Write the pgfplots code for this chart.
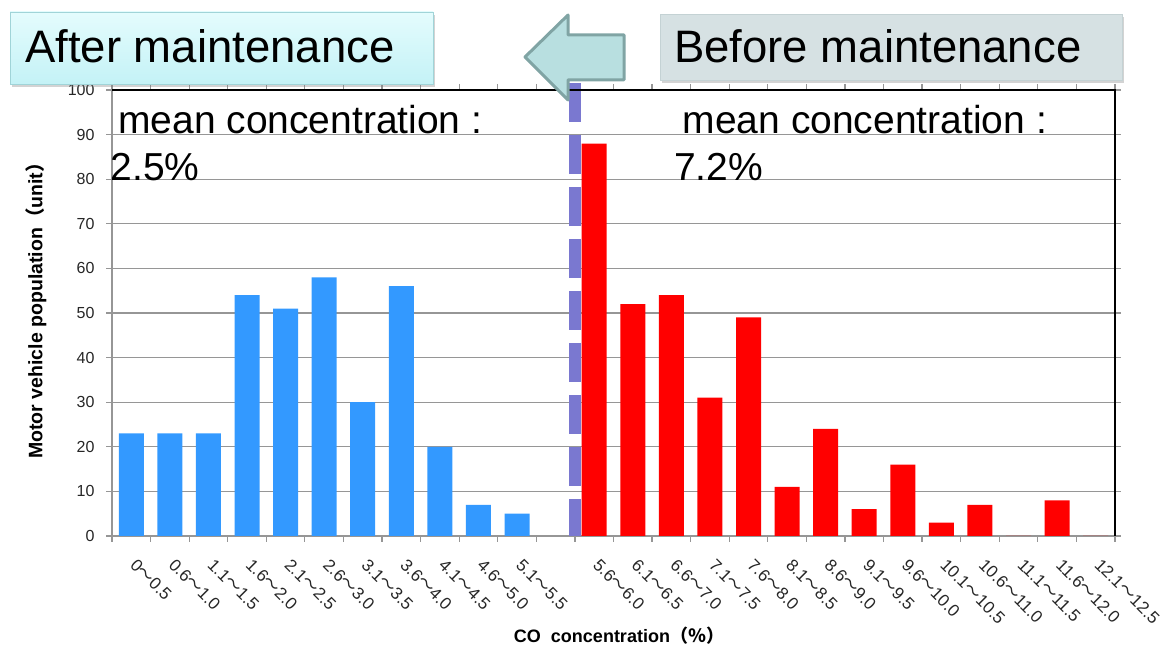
\documentclass[border=0pt]{standalone}
\usepackage{fontspec}
\setmainfont{Liberation Sans}
\newfontfamily\cjkfont{Noto Sans CJK SC}
\usepackage{pgfplots}
\usepackage{pgfplotstable}
\pgfplotsset{compat=1.18}
\usetikzlibrary{shadows}

\definecolor{afterblue}{RGB}{51,153,255}
\definecolor{beforered}{RGB}{255,0,0}
\definecolor{divider}{RGB}{122,120,208}
\definecolor{gridgray}{RGB}{150,150,150}
\definecolor{arrowfill}{RGB}{184,223,224}
\definecolor{arrowedge}{RGB}{128,164,164}
\definecolor{aftertop}{RGB}{228,252,253}
\definecolor{afterbot}{RGB}{196,242,246}
\definecolor{afteredge}{RGB}{160,212,216}
\definecolor{beforefill}{RGB}{214,225,227}
\definecolor{beforeedge}{RGB}{196,210,212}

% concentration range label, e.g. 0～0.5
\newcommand{\rng}[2]{#1{\cjkfont ～}#2}

% vehicles per CO band after maintenance (slots 0-10)
\pgfplotstableread{
slot count
0  23
1  23
2  23
3  54
4  51
5  58
6  30
7  56
8  20
9  7
10 5
}\aftertable

% vehicles per CO band before maintenance (slots 12-25)
\pgfplotstableread{
slot count
12 88
13 52
14 54
15 31
16 49
17 11
18 24
19 6
20 16
21 3
22 7
23 0
24 8
25 0
}\beforetable

\begin{document}
\begin{tikzpicture}[x=1pt, y=1pt]
\useasboundingbox (0pt,0pt) rectangle (1171pt,647pt);

\begin{axis}[
  at={(112pt,111pt)}, anchor=south west,
  scale only axis, width=1003pt, height=446pt,
  xmin=-0.5, xmax=25.5, ymin=0, ymax=100,
  clip=false,
  ytick={0,10,...,100},
  xtick={-0.5,0.5,...,25.5},
  x tick label as interval,
  xticklabels={\rng{0}{0.5},\rng{0.6}{1.0},\rng{1.1}{1.5},\rng{1.6}{2.0},
    \rng{2.1}{2.5},\rng{2.6}{3.0},\rng{3.1}{3.5},\rng{3.6}{4.0},\rng{4.1}{4.5},
    \rng{4.6}{5.0},\rng{5.1}{5.5},{},\rng{5.6}{6.0},\rng{6.1}{6.5},\rng{6.6}{7.0},
    \rng{7.1}{7.5},\rng{7.6}{8.0},\rng{8.1}{8.5},\rng{8.6}{9.0},\rng{9.1}{9.5},
    \rng{9.6}{10.0},\rng{10.1}{10.5},\rng{10.6}{11.0},\rng{11.1}{11.5},
    \rng{11.6}{12.0},\rng{12.1}{12.5}},
  tick align=outside,
  major tick length=6pt,
  tick style={gridgray, line width=1.2pt},
  axis line style={gridgray, line width=1.3pt},
  ymajorgrids,
  major grid style={gridgray, line width=1.3pt},
  yticklabel style={font=\fontsize{16}{16}\selectfont, text=black!85, xshift=-8pt},
  xticklabel style={font=\fontsize{17}{17}\selectfont, text=black!85,
    rotate=-45, anchor=north west, inner sep=0pt, yshift=-6.5pt, xshift=15.5pt},
  /pgf/number format/assume math mode=true,
  ybar, bar width=25pt,
]
\addplot[draw=none, fill=afterblue, bar shift=0pt] table[x=slot, y=count] {\aftertable};
\addplot[draw=none, fill=beforered, bar shift=0pt] table[x=slot, y=count] {\beforetable};
% divider between the two surveys
\addplot[divider, line width=12.7pt, dash pattern=on 39pt off 13pt, sharp plot]
  coordinates {(11.5,101.6) (11.5,0)};
\draw[black, line width=1.2pt] (rel axis cs:0,1) -- (rel axis cs:1,1) -- (rel axis cs:1,0);
\end{axis}

% mean concentrations
\node[anchor=base west, inner sep=0pt, font=\fontsize{39}{39}\selectfont] at (118pt,513pt) {mean concentration :};
\node[anchor=base west, inner sep=0pt, font=\fontsize{39}{39}\selectfont] at (110.5pt,466pt) {2.5\%};
\node[anchor=base west, inner sep=0pt, font=\fontsize{39}{39}\selectfont] at (682.5pt,513pt) {mean concentration :};
\node[anchor=base west, inner sep=0pt, font=\fontsize{39}{39}\selectfont] at (674pt,466pt) {7.2\%};

% axis titles
\node[rotate=90, font=\bfseries\fontsize{19.5}{19.5}\selectfont] at (36pt,341pt)
  {Motor vehicle population{\cjkfont （}unit{\cjkfont ）}};
\node[anchor=base, inner sep=0pt, font=\bfseries\fontsize{18}{18}\selectfont] at (619pt,4.5pt)
  {CO\ \ concentration{\cjkfont （％）}};

% header boxes
\draw[afteredge, line width=0.8pt, top color=aftertop, bottom color=afterbot,
  drop shadow={shadow xshift=2pt, shadow yshift=-3pt, opacity=0.35}]
  (10pt,563pt) rectangle (433pt,635pt);
\node[anchor=base west, inner sep=0pt, font=\fontsize{45.5}{45.5}\selectfont] at (25pt,584pt) {After maintenance};

\draw[beforeedge, line width=0.8pt, fill=beforefill,
  drop shadow={shadow xshift=2pt, shadow yshift=-3pt, opacity=0.35}]
  (660pt,567pt) rectangle (1122pt,633pt);
\node[anchor=base west, inner sep=0pt, font=\fontsize{45.5}{45.5}\selectfont] at (674pt,584pt) {Before maintenance};

% arrow pointing from "before" to "after"
\draw[arrowedge, fill=arrowfill, line width=3pt, line join=round]
  (525pt,590pt) -- (568pt,632pt) -- (568pt,612pt) -- (624pt,612pt) -- (624pt,567pt)
  -- (568pt,567pt) -- (568pt,547pt) -- cycle;
\end{tikzpicture}
\end{document}
